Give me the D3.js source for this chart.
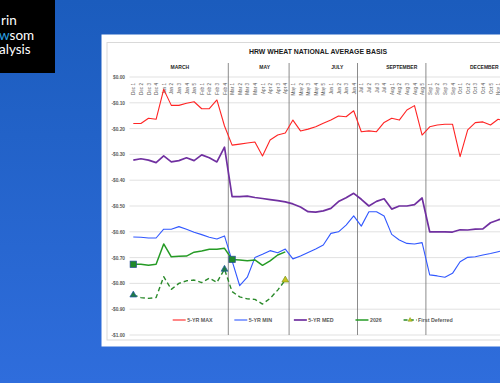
<!DOCTYPE html>
<html><head><meta charset="utf-8">
<script src="https://cdn.jsdelivr.net/npm/d3@7"></script>
<style>html,body{margin:0;padding:0;overflow:hidden;background:#2462cc}</style>
</head><body>
<svg id="c" width="500" height="383"></svg>
<script>
// ---------- DATA ----------
const title = "HRW WHEAT NATIONAL AVERAGE BASIS";
const sections = ["MARCH","MAY","JULY","SEPTEMBER","DECEMBER"];
const sectionWeeks = [
  ["Dec 1","Dec 2","Dec 3","Dec 4","Jan 1","Jan 2","Jan 3","Jan 4","Jan 5","Feb 1","Feb 2","Feb 3","Feb 4"],
  ["Mar 1","Mar 2","Mar 3","Mar 4","Apr 1","Apr 2","Apr 3","Apr 4"],
  ["May 1","May 2","May 3","May 4","May 5","Jun 1","Jun 2","Jun 3","Jun 4"],
  ["Jul 1","Jul 2","Jul 3","Jul 4","Aug 1","Aug 2","Aug 3","Aug 4","Aug 5"],
  ["Sep 1","Sep 2","Sep 3","Sep 4","Oct 1","Oct 2","Oct 3","Oct 4","Oct 5","Nov 1","Nov 2","Nov 3","Nov 4"]
];
const yTickValues = [0,-0.1,-0.2,-0.3,-0.4,-0.5,-0.6,-0.7,-0.8,-0.9,-1.0];
const yTickLabels = ["$0.00","-$0.10","-$0.20","-$0.30","-$0.40","-$0.50","-$0.60","-$0.70","-$0.80","-$0.90","-$1.00"];

const max5 = [-0.18,-0.18,-0.16,-0.164,-0.048,-0.11,-0.11,-0.102,-0.096,-0.123,-0.123,-0.089,-0.19,
  -0.264,-0.26,-0.256,-0.252,-0.306,-0.244,-0.225,-0.217,
  -0.167,-0.209,-0.202,-0.193,-0.179,-0.167,-0.151,-0.154,-0.131,
  -0.212,-0.209,-0.212,-0.176,-0.16,-0.167,-0.128,-0.111,-0.225,
  -0.193,-0.186,-0.183,-0.183,-0.309,-0.205,-0.177,-0.174,-0.186,-0.164,-0.17];
const min5 = [-0.62,-0.621,-0.624,-0.624,-0.59,-0.59,-0.58,-0.59,-0.602,-0.611,-0.621,-0.628,-0.616,
  -0.713,-0.809,-0.776,-0.70,-0.687,-0.673,-0.681,-0.667,
  -0.705,-0.694,-0.68,-0.667,-0.651,-0.606,-0.60,-0.574,-0.538,
  -0.578,-0.522,-0.522,-0.539,-0.61,-0.632,-0.645,-0.647,-0.642,
  -0.767,-0.771,-0.776,-0.761,-0.716,-0.699,-0.697,-0.69,-0.684,-0.677,-0.67];
const med5 = [-0.322,-0.317,-0.322,-0.332,-0.306,-0.329,-0.324,-0.313,-0.324,-0.302,-0.313,-0.329,-0.272,
  -0.464,-0.464,-0.462,-0.467,-0.471,-0.475,-0.479,-0.484,
  -0.492,-0.504,-0.522,-0.524,-0.519,-0.509,-0.483,-0.468,-0.451,
  -0.474,-0.50,-0.482,-0.472,-0.512,-0.50,-0.50,-0.495,-0.469,
  -0.60,-0.60,-0.60,-0.601,-0.592,-0.593,-0.59,-0.589,-0.565,-0.554,-0.546];
const y2026 = [-0.726,-0.726,-0.73,-0.726,-0.647,-0.697,-0.695,-0.694,-0.679,-0.674,-0.668,-0.668,-0.664,
  -0.707,-0.709,-0.712,-0.709,-0.73,-0.713,-0.69,-0.678];
const firstDeferred = [-0.845,-0.855,-0.858,-0.855,-0.774,-0.823,-0.80,-0.79,-0.787,-0.797,-0.78,-0.796,-0.745,
  -0.832,-0.852,-0.86,-0.862,-0.88,-0.858,-0.826,-0.787];
const squareMarkerIdx = [0,13];
const triangleMarkerIdx = [0,12,20];
const seriesNames = ["5-YR MAX","5-YR MIN","5-YR MED","2026","First Deferred"];

// ---------- LAYOUT ----------
const W = 500, H = 383;
const categories = sectionWeeks.flat();
const svg = d3.select("#c");
const defs = svg.append("defs");
const g1 = defs.append("linearGradient").attr("id","bg").attr("x1",0).attr("y1",0).attr("x2",0).attr("y2",1);
g1.append("stop").attr("offset","0%").attr("stop-color","#1b5cbd");
g1.append("stop").attr("offset","100%").attr("stop-color","#2f6ddc");
svg.append("rect").attr("width",W).attr("height",H).attr("fill","url(#bg)");

// logo box
svg.append("rect").attr("x",0).attr("y",0).attr("width",55).attr("height",73).attr("fill","#000");
const logo = svg.append("g").attr("font-family","Lato, 'Open Sans', sans-serif").attr("font-weight",400)
  .attr("font-size",13.5).attr("fill","#fff");
logo.append("text").attr("x",1).attr("y",25).text("rin");
const l2 = logo.append("text").attr("x",-1).attr("y",39.5);
l2.append("tspan").attr("fill","#2aa0e6").text("w");
l2.append("tspan").text("som");
logo.append("text").attr("x",-1).attr("y",54).text("alysis");

// card
svg.append("rect").attr("x",101.5).attr("y",34.5).attr("width",420).attr("height",312).attr("fill","#fff");
svg.append("rect").attr("x",107).attr("y",42.5).attr("width",420).attr("height",297.5)
  .attr("fill","none").attr("stroke","#d9d9d9").attr("stroke-width",1);

const step = 7.6, x0 = 129.5;
const x = d3.scalePoint().domain(categories).range([x0, x0 + step*categories.length]).padding(0.5);
const y = d3.scaleLinear().domain([-1,0]).range([335,77]);

// gridlines
svg.append("g").selectAll("line").data(yTickValues).join("line")
  .attr("x1",x0).attr("x2",540).attr("y1",d=>y(d)).attr("y2",d=>y(d))
  .attr("stroke","#d9d9d9").attr("stroke-width",0.8);

// y axis
const yAxis = d3.axisLeft(y).tickValues(yTickValues).tickSize(0).tickPadding(0)
  .tickFormat((d,i)=>yTickLabels[i]);
const ya = svg.append("g").attr("transform","translate(125,0)").call(yAxis);
ya.select(".domain").remove();
ya.selectAll("text").attr("font-family","'Liberation Sans', Arial, sans-serif").attr("font-size",4.8)
  .attr("font-weight","bold").attr("fill","#595959");

// category axis (labels rotated) - only categories inside the visible window
const xAxis = d3.axisBottom(x).tickSize(0).tickValues(categories.filter(c => x(c) < W));
const xa = svg.append("g").attr("transform",`translate(0,${y(0)})`).call(xAxis);
xa.select(".domain").remove();
xa.selectAll("text").attr("transform","rotate(-90)").attr("x",-6).attr("y",0).attr("dy","0.35em")
  .attr("text-anchor","end").attr("font-family","'Liberation Sans', Arial, sans-serif")
  .attr("font-size",4.6).attr("fill","#595959");

// section dividers and labels
const labelOffsets = [1,6,14,10,9];
sectionWeeks.forEach((wks,si)=>{
  const first = x(wks[0]) - step/2;
  const last = x(wks[wks.length-1]) + step/2;
  if (si>0) svg.append("line").attr("x1",first).attr("x2",first).attr("y1",63).attr("y2",335)
     .attr("stroke","#7f7f7f").attr("stroke-width",0.9);
  svg.append("text").attr("x",(first+last)/2 + labelOffsets[si]).attr("y",68.8)
    .attr("text-anchor","middle").attr("font-family","'Liberation Sans', Arial, sans-serif")
    .attr("font-size",5).attr("font-weight","bold").attr("fill","#262626").text(sections[si]);
});

// title
svg.append("text").attr("x",318).attr("y",54.3).attr("text-anchor","middle")
  .attr("font-family","'Liberation Sans', Arial, sans-serif").attr("font-weight","bold")
  .attr("font-size",6.9).attr("fill","#1a1a1a").text(title);

// lines
const line = d3.line().x((d,i)=>x(categories[i])).y(d=>y(d));
const styles = [
  {data:max5, color:"#ff2424", w:1.1, dash:null},
  {data:min5, color:"#3158ff", w:1.1, dash:null},
  {data:med5, color:"#7030a0", w:1.7, dash:null},
  {data:y2026, color:"#259b25", w:1.5, dash:null},
  {data:firstDeferred, color:"#2a8a2a", w:1.4, dash:"4.5,3"}
];
styles.forEach(s=>{
  svg.append("path").datum(s.data).attr("d",line).attr("fill","none")
    .attr("stroke",s.color).attr("stroke-width",s.w).attr("stroke-linejoin","round")
    .attr("stroke-dasharray",s.dash);
});

// markers
svg.append("g").selectAll("rect").data(squareMarkerIdx).join("rect")
  .attr("x",i=>x(categories[i])-3.2).attr("y",i=>y(y2026[i])-3.2).attr("width",6.4).attr("height",6.4)
  .attr("fill","#1f8a2a").attr("stroke","#2a4f9a").attr("stroke-width",0.7);
const tri = d3.symbol().type(d3.symbolTriangle).size(20);
svg.append("g").selectAll("path").data(triangleMarkerIdx).join("path")
  .attr("d",tri).attr("transform",i=>`translate(${x(categories[i])},${y(firstDeferred[i])})`)
  .attr("fill",(i,k)=>k===triangleMarkerIdx.length-1?"#c9c21e":"#1f7a44")
  .attr("stroke",(i,k)=>k===triangleMarkerIdx.length-1?"#7a9a20":"#2458a8").attr("stroke-width",0.7);

// legend
const leg = svg.append("g").attr("font-family","'Liberation Sans', Arial, sans-serif")
  .attr("font-size",5.3).attr("font-weight","bold").attr("fill","#595959");
let lx = 172.7; const ly = 320;
seriesNames.forEach((n,i)=>{
  const s = styles[i];
  leg.append("line").attr("x1",lx).attr("x2",lx+13).attr("y1",ly).attr("y2",ly)
    .attr("stroke",s.color).attr("stroke-width",s.w).attr("stroke-dasharray",s.dash?"4,2.2":null);
  if (i===4) leg.append("path").attr("d",d3.symbol().type(d3.symbolTriangle).size(8))
    .attr("transform",`translate(${lx+6.5},${ly})`).attr("fill","#c9c21e").attr("stroke","#7a9a20").attr("stroke-width",0.5);
  const t = leg.append("text").attr("x",lx+14.5).attr("y",ly+1.9).text(n);
  lx = lx + 14.5 + t.node().getComputedTextLength() + 21.8;
});
</script>
</body></html>
